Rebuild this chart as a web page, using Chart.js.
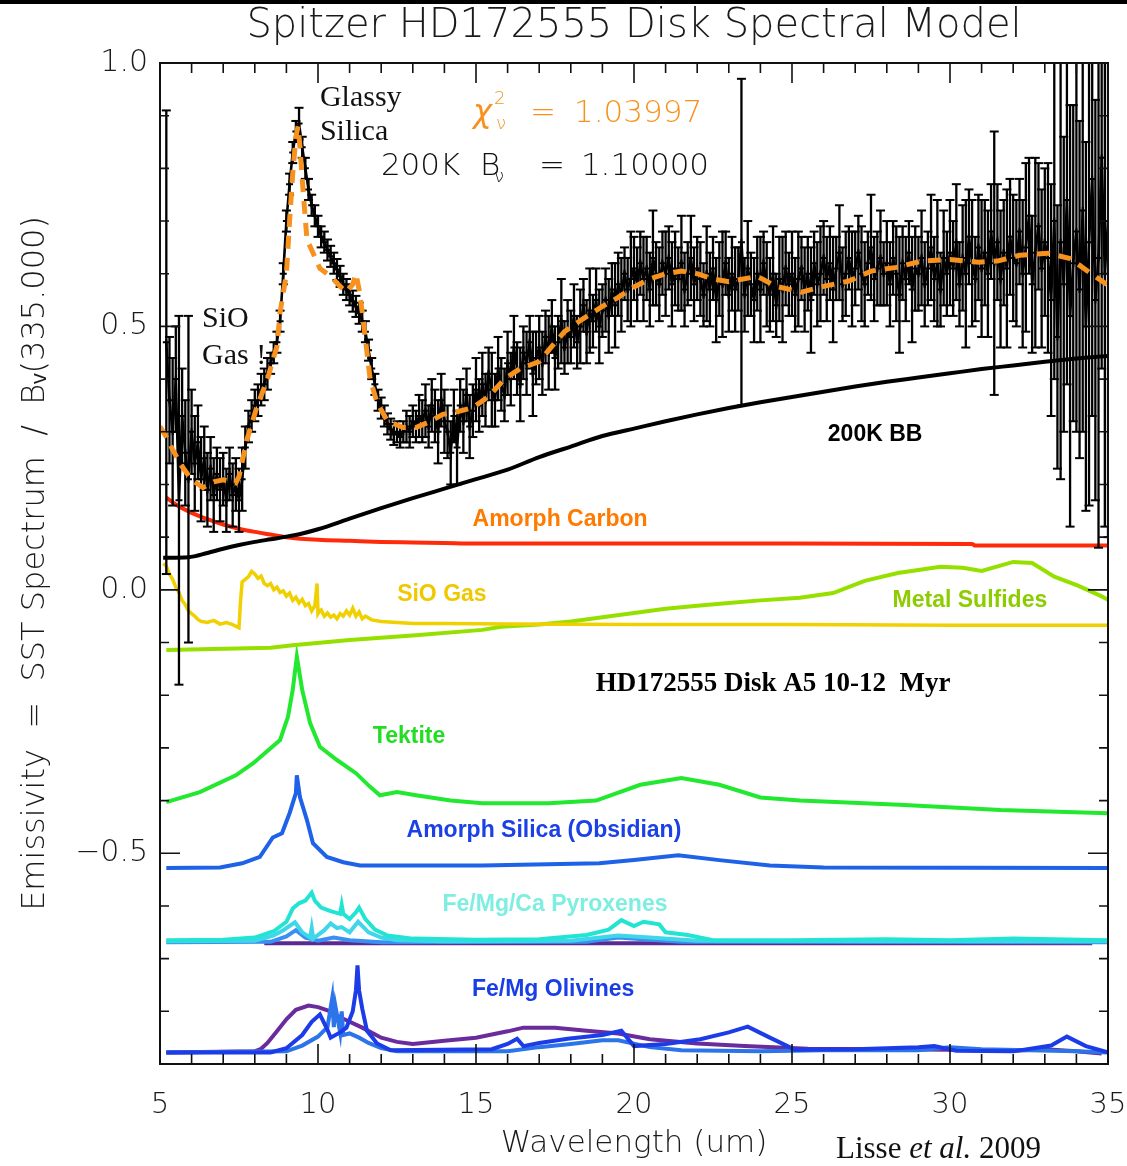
<!DOCTYPE html>
<html><head><meta charset="utf-8">
<script src="https://cdn.jsdelivr.net/npm/chart.js@4.4.0/dist/chart.umd.min.js"></script>
<style>html,body{margin:0;padding:0;background:#fff;}#wrap{width:1127px;height:1166px;position:relative;}</style>
</head><body><div id="wrap"><canvas id="c" width="1127" height="1166"></canvas></div>
<script>
// ---------- Observed Spitzer spectrum (short-wavelength part) ----------
const slWavelength = [5.2,5.3,5.4,5.5,5.6,5.7,5.8,5.9,6.0,6.1,
 6.2,6.3,6.4,6.5,6.6,6.7,6.8,6.9,7.0,7.1,
 7.2,7.3,7.4,7.5,7.6,7.7,7.8,7.9,8.0,8.1,
 8.2,8.3,8.4,8.5,8.6,8.7,8.8,8.9,9.0,9.1,
 9.2,9.3,9.4,9.5,9.6,9.7,9.8,9.9,10.0,10.1,
 10.2,10.3,10.4,10.5,10.6,10.7,10.8,10.9,11.0,11.1,
 11.2,11.3,11.4,11.5,11.6,11.7,11.8,11.9,12.0,12.1,
 12.2,12.3,12.4,12.5,12.6,12.7,12.8,12.9,13.0,13.1,
 13.2,13.3,13.4,13.5,13.6,13.7,13.8,13.9,14.0];
const slFlux = [0.47,0.36,0.30,0.40,0.17,0.33,0.26,0.21,0.30,0.24,
 0.28,0.21,0.25,0.19,0.23,0.18,0.22,0.19,0.21,0.17,
 0.22,0.18,0.20,0.17,0.21,0.27,0.31,0.33,0.35,0.36,
 0.38,0.39,0.41,0.43,0.45,0.47,0.51,0.60,0.70,0.77,
 0.83,0.87,0.885,0.84,0.80,0.76,0.73,0.71,0.69,0.67,
 0.66,0.645,0.633,0.62,0.608,0.595,0.58,0.57,0.56,0.548,
 0.538,0.525,0.51,0.49,0.455,0.42,0.39,0.36,0.345,0.33,
 0.315,0.305,0.295,0.30,0.29,0.30,0.31,0.30,0.32,0.31,
 0.33,0.32,0.34,0.31,0.35,0.33,0.30,0.36,0.32];
const slError = [0.44,0.12,0.14,0.10,0.35,0.09,0.10,0.31,0.08,0.09,
 0.07,0.08,0.06,0.07,0.06,0.07,0.05,0.06,0.05,0.06,
 0.05,0.06,0.05,0.06,0.06,0.04,0.03,0.03,0.03,0.03,
 0.03,0.03,0.03,0.02,0.02,0.02,0.02,0.02,0.02,0.02,
 0.02,0.02,0.03,0.02,0.02,0.02,0.02,0.02,0.02,0.02,
 0.02,0.02,0.02,0.02,0.02,0.02,0.02,0.02,0.02,0.02,
 0.02,0.02,0.02,0.02,0.02,0.02,0.02,0.02,0.02,0.02,
 0.02,0.02,0.02,0.02,0.02,0.02,0.03,0.03,0.03,0.03,
 0.04,0.04,0.05,0.04,0.05,0.05,0.06,0.05,0.06];
// ---------- Observed Spitzer spectrum (long-wavelength part) ----------
const llWavelength = [14.1,14.2,14.3,14.4,14.5,14.6,14.7,14.8,14.9,15.0,
 15.1,15.2,15.3,15.4,15.5,15.6,15.7,15.8,15.9,16.0,
 16.1,16.2,16.3,16.4,16.5,16.6,16.7,16.8,16.9,17.0,
 17.1,17.2,17.3,17.4,17.5,17.6,17.7,17.8,17.9,18.0,
 18.1,18.2,18.3,18.4,18.5,18.6,18.7,18.8,18.9,19.0,
 19.1,19.2,19.3,19.4,19.5,19.6,19.7,19.8,19.9,20.0,
 20.1,20.2,20.3,20.4,20.5,20.6,20.7,20.8,20.9,21.0,
 21.1,21.2,21.3,21.4,21.5,21.6,21.7,21.8,21.9,22.0,
 22.1,22.2,22.3,22.4,22.5,22.6,22.7,22.8,22.9,23.0,
 23.1,23.2,23.3,23.4,23.5,23.6,23.7,23.8,23.9,24.0,
 24.1,24.2,24.3,24.4,24.5,24.6,24.7,24.8,24.9,25.0,
 25.1,25.2,25.3,25.4,25.5,25.6,25.7,25.8,25.9,26.0,
 26.1,26.2,26.3,26.4,26.5,26.6,26.7,26.8,26.9,27.0,
 27.1,27.2,27.3,27.4,27.5,27.6,27.7,27.8,27.9,28.0,
 28.1,28.2,28.3,28.4,28.5,28.6,28.7,28.8,28.9,29.0,
 29.1,29.2,29.3,29.4,29.5,29.6,29.7,29.8,29.9,30.0,
 30.1,30.2,30.3,30.4,30.5,30.6,30.7,30.8,30.9,31.0,
 31.1,31.2,31.3,31.4,31.5,31.6,31.7,31.8,31.9,32.0,
 32.1,32.2,32.3,32.4,32.5,32.6,32.7,32.8,32.9,33.0,
 33.1,33.2,33.3,33.4,33.5,33.6,33.7,33.8,33.9,34.0,
 34.1,34.2,34.3,34.4,34.5,34.6,34.7,34.8,34.9,35.0];
const llFlux = [0.30,0.26,0.33,0.27,0.35,0.32,0.37,0.31,0.34,0.38,
 0.35,0.39,0.36,0.41,0.38,0.36,0.42,0.39,0.37,0.43,
 0.40,0.46,0.42,0.39,0.45,0.43,0.47,0.41,0.44,0.46,
 0.43,0.48,0.45,0.50,0.44,0.47,0.51,0.46,0.49,0.48,
 0.52,0.47,0.50,0.54,0.49,0.53,0.51,0.55,0.50,0.53,
 0.55,0.52,0.57,0.54,0.58,0.56,0.60,0.57,0.59,0.61,
 0.58,0.62,0.59,0.61,0.57,0.63,0.60,0.58,0.62,0.60,
 0.63,0.58,0.61,0.59,0.62,0.57,0.60,0.63,0.58,0.61,
 0.59,0.56,0.60,0.57,0.61,0.55,0.59,0.58,0.62,0.56,
 0.60,0.57,0.59,0.66,0.56,0.61,0.58,0.55,0.60,0.57,
 0.62,0.58,0.56,0.60,0.54,0.59,0.57,0.61,0.58,0.60,
 0.56,0.59,0.61,0.57,0.60,0.55,0.62,0.58,0.60,0.63,
 0.59,0.62,0.57,0.61,0.64,0.58,0.60,0.63,0.59,0.61,
 0.64,0.60,0.58,0.62,0.65,0.59,0.61,0.63,0.60,0.62,
 0.58,0.63,0.60,0.56,0.62,0.59,0.64,0.57,0.61,0.60,
 0.63,0.58,0.61,0.65,0.59,0.62,0.57,0.63,0.60,0.64,
 0.61,0.66,0.58,0.63,0.60,0.67,0.62,0.59,0.65,0.61,
 0.64,0.60,0.68,0.62,0.66,0.59,0.64,0.61,0.67,0.63,
 0.62,0.68,0.60,0.65,0.71,0.58,0.64,0.69,0.61,0.66,
 0.63,0.55,0.70,0.48,0.66,0.58,0.74,0.52,0.62,0.68,
 0.57,0.72,0.50,0.66,0.78,0.55,0.63,0.82,0.60,0.70];
const llError = [0.05,0.06,0.05,0.07,0.05,0.06,0.05,0.06,0.05,0.06,
 0.05,0.06,0.05,0.05,0.07,0.05,0.06,0.05,0.05,0.06,
 0.05,0.06,0.05,0.07,0.05,0.06,0.05,0.08,0.05,0.06,
 0.06,0.05,0.07,0.05,0.06,0.05,0.08,0.05,0.06,0.05,
 0.06,0.05,0.07,0.05,0.06,0.08,0.05,0.06,0.07,0.05,
 0.06,0.07,0.05,0.08,0.06,0.07,0.05,0.06,0.09,0.06,
 0.07,0.06,0.08,0.06,0.07,0.09,0.06,0.07,0.06,0.08,
 0.06,0.08,0.07,0.06,0.09,0.07,0.06,0.08,0.07,0.06,
 0.07,0.06,0.09,0.07,0.06,0.08,0.07,0.10,0.06,0.07,
 0.07,0.08,0.06,0.31,0.07,0.09,0.06,0.08,0.07,0.10,
 0.06,0.08,0.07,0.09,0.06,0.08,0.10,0.07,0.06,0.08,
 0.07,0.09,0.06,0.08,0.07,0.10,0.06,0.08,0.09,0.07,
 0.08,0.07,0.10,0.06,0.09,0.07,0.08,0.06,0.09,0.07,
 0.07,0.09,0.08,0.06,0.10,0.08,0.07,0.09,0.06,0.08,
 0.08,0.07,0.09,0.11,0.07,0.08,0.06,0.10,0.08,0.07,
 0.09,0.08,0.07,0.10,0.08,0.12,0.07,0.09,0.08,0.10,
 0.09,0.11,0.08,0.10,0.14,0.09,0.12,0.08,0.10,0.13,
 0.10,0.12,0.09,0.25,0.11,0.13,0.10,0.15,0.11,0.12,
 0.12,0.10,0.14,0.16,0.11,0.13,0.18,0.12,0.15,0.14,
 0.18,0.22,0.30,0.25,0.45,0.28,0.35,0.40,0.30,0.38,
 0.32,0.42,0.35,0.50,0.45,0.38,0.55,0.40,0.48,0.60];
// ---------- Best-fit model (orange dashed) ----------
const modelWavelength = [5.0,5.2,5.4,5.7,6.0,6.36,6.7,7.0,7.4,7.5,7.75,8.07,8.4,8.7,8.8,9.0,9.1,9.2,9.3,9.37,9.43,9.5,9.65,9.84,10.06,10.4,10.7,10.9,11.1,11.2,11.3,11.4,11.65,11.87,12.2,12.7,13.1,13.45,13.95,14.4,14.9,15.4,15.9,16.4,17.0,17.4,17.8,18.35,19.0,19.5,20.0,20.5,21.0,21.5,22.0,22.5,23.0,23.9,24.5,25.3,26.0,26.8,27.5,28.3,29.1,30.0,30.9,31.5,32.2,33.1,33.8,34.4,35.0];
const modelFlux = [0.31,0.29,0.266,0.234,0.209,0.194,0.205,0.209,0.203,0.215,0.285,0.348,0.40,0.462,0.527,0.60,0.70,0.79,0.86,0.88,0.84,0.78,0.665,0.64,0.61,0.595,0.576,0.565,0.58,0.60,0.57,0.527,0.40,0.355,0.32,0.308,0.308,0.317,0.333,0.338,0.346,0.367,0.40,0.42,0.433,0.462,0.49,0.513,0.538,0.555,0.575,0.59,0.60,0.605,0.60,0.59,0.585,0.595,0.576,0.565,0.576,0.586,0.605,0.612,0.624,0.627,0.622,0.624,0.635,0.639,0.629,0.603,0.578];
// ---------- Model components ----------
const bbWavelength = [5.1,5.9,6.5,7.0,7.5,8.0,8.5,9.0,9.5,10,11,12,13,14,15,16,17,18,19,20,21,22,23,24,25,26,27,28,29,30,31,32,33,34,35];
const bbFlux = [0.061,0.062,0.07,0.078,0.085,0.091,0.096,0.101,0.107,0.115,0.135,0.155,0.174,0.192,0.21,0.228,0.252,0.272,0.292,0.306,0.32,0.333,0.345,0.356,0.366,0.376,0.386,0.395,0.403,0.411,0.419,0.426,0.433,0.439,0.444];
const carbonWavelength = [5.2,5.5,6.0,6.5,7.0,7.5,8.0,8.5,9.0,10.0,11.0,12.0,13.0,14.0,15.0,20.0,25.0,30.7,30.8,35.0];
const carbonFlux = [0.175,0.162,0.146,0.134,0.124,0.116,0.110,0.105,0.100,0.095,0.093,0.091,0.090,0.089,0.088,0.088,0.088,0.087,0.084,0.084];
const sioWavelength = [5.1,5.2,5.3,5.4,5.5,5.6,5.7,5.8,5.9,6.0,6.1,6.2,6.3,6.5,6.7,6.9,7.1,7.3,7.5,7.55,7.6,7.7,7.8,7.9,8.0,8.1,8.2,8.3,8.4,8.5,8.6,8.7,8.8,8.9,9.0,9.1,9.2,9.3,9.4,9.5,9.6,9.7,9.8,9.9,9.97,10.0,10.05,10.1,10.2,10.3,10.4,10.5,10.6,10.7,10.8,10.9,11.0,11.1,11.2,11.3,11.4,11.5,11.7,12.0,12.5,13.0,14.0,16.0,20.0,25.0,30.0,35.0];
const sioFlux = [0.05,0.045,0.03,0.02,0.005,-0.005,-0.02,-0.028,-0.04,-0.045,-0.05,-0.056,-0.06,-0.062,-0.058,-0.065,-0.062,-0.066,-0.072,-0.02,0.015,0.02,0.025,0.035,0.03,0.022,0.026,0.012,0.008,0.012,0.0,0.005,-0.005,-0.002,-0.012,-0.006,-0.02,-0.014,-0.025,-0.018,-0.03,-0.026,-0.04,-0.03,0.012,-0.045,-0.04,-0.038,-0.05,-0.044,-0.052,-0.048,-0.055,-0.045,-0.05,-0.04,-0.048,-0.035,-0.05,-0.042,-0.055,-0.05,-0.057,-0.06,-0.062,-0.064,-0.064,-0.065,-0.066,-0.066,-0.067,-0.067];
const sulfideWavelength = [5.2,8.5,9.2,11.0,13.1,15.2,15.8,17.0,18,19,20,21,22,23,24,25.25,26.3,27.3,28.35,29.7,30.4,31.0,32.0,32.6,33.3,34.05,34.75,35.0];
const sulfideFlux = [-0.114,-0.11,-0.105,-0.095,-0.086,-0.076,-0.07,-0.066,-0.06,-0.052,-0.044,-0.036,-0.03,-0.025,-0.02,-0.015,-0.006,0.017,0.032,0.044,0.042,0.036,0.053,0.051,0.025,0.008,-0.011,-0.019];
const tektiteWavelength = [5.2,6.26,7.4,7.95,8.8,9.05,9.2,9.33,9.5,9.75,10.06,10.6,11.2,11.65,11.96,12.5,13.1,14.2,15.2,17.3,18.8,20.2,21.5,22.7,24.0,25.25,28.4,31.6,35.0];
const tektiteFlux = [-0.403,-0.384,-0.352,-0.329,-0.285,-0.241,-0.19,-0.127,-0.19,-0.253,-0.298,-0.323,-0.348,-0.374,-0.39,-0.384,-0.39,-0.40,-0.405,-0.405,-0.40,-0.37,-0.357,-0.37,-0.394,-0.40,-0.408,-0.418,-0.424];
const obsidianWavelength = [5.2,6.9,7.6,8.16,8.57,8.86,9.1,9.3,9.33,9.43,9.65,9.84,10.28,10.8,11.33,12.6,15.2,18.9,20.0,21.4,22.7,24.3,26.0,35.0];
const obsidianFlux = [-0.528,-0.527,-0.519,-0.507,-0.47,-0.462,-0.424,-0.386,-0.352,-0.394,-0.437,-0.481,-0.507,-0.517,-0.523,-0.523,-0.523,-0.519,-0.513,-0.504,-0.513,-0.523,-0.527,-0.528];
const pyroxene1Wavelength = [5.2,7.0,8.0,8.6,9.0,9.2,9.4,9.6,9.8,9.9,10.1,10.4,10.7,10.75,10.8,11.0,11.2,11.3,11.5,11.8,12.2,13.0,15.0,17.0,18.5,19.2,19.6,20.0,20.3,20.8,21.0,21.7,22.5,25.0,28.0,30.0,32.0,35.0];
const pyroxene1Flux = [-0.665,-0.664,-0.66,-0.648,-0.63,-0.605,-0.595,-0.59,-0.575,-0.59,-0.603,-0.61,-0.615,-0.598,-0.615,-0.625,-0.612,-0.603,-0.625,-0.645,-0.656,-0.662,-0.664,-0.663,-0.655,-0.645,-0.627,-0.638,-0.63,-0.635,-0.65,-0.655,-0.665,-0.665,-0.663,-0.665,-0.662,-0.665];
const pyroxene2Wavelength = [5.2,8.0,8.6,8.9,9.27,9.5,9.75,9.8,9.85,10.2,10.4,10.6,10.75,11.0,11.27,11.6,12.0,12.5,14.0,18.0,19.5,20.5,22.0,35.0];
const pyroxene2Flux = [-0.667,-0.666,-0.656,-0.646,-0.631,-0.65,-0.66,-0.642,-0.662,-0.646,-0.633,-0.642,-0.64,-0.65,-0.63,-0.65,-0.66,-0.665,-0.667,-0.666,-0.656,-0.66,-0.666,-0.667];
const pyroxene3Wavelength = [5.2,8.5,9.0,9.3,9.6,10.0,10.5,11.0,12.0,18.5,19.5,20.5,21.5,35.0];
const pyroxene3Flux = [-0.669,-0.668,-0.658,-0.646,-0.66,-0.666,-0.66,-0.665,-0.669,-0.668,-0.66,-0.664,-0.668,-0.669];
const pyroxene4Wavelength = [8.3,34.5];
const pyroxene4Flux = [-0.671,-0.671];
const olivine1Wavelength = [5.2,8.0,8.2,8.4,8.7,9.0,9.3,9.7,10.0,10.3,10.8,11.4,12.0,12.5,13.0,14.0,15.0,16.0,16.5,17.5,18.5,19.5,20.5,22.0,23.5,25.5,28.0,30.0,32.0,33.0,34.0,34.8];
const olivine1Flux = [-0.878,-0.876,-0.871,-0.86,-0.838,-0.815,-0.797,-0.789,-0.792,-0.798,-0.814,-0.831,-0.85,-0.858,-0.862,-0.856,-0.85,-0.838,-0.831,-0.831,-0.837,-0.842,-0.853,-0.861,-0.866,-0.871,-0.872,-0.873,-0.875,-0.872,-0.876,-0.88];
const olivine2Wavelength = [5.2,8.5,9.0,9.5,9.8,10.06,10.3,10.4,10.7,10.9,11.1,11.2,11.25,11.3,11.4,11.55,11.87,12.3,15.5,16.0,16.3,16.5,17.0,17.9,19.0,19.6,20.0,21.0,22.1,23.0,23.6,24.3,25.1,27.0,29.0,29.5,30.2,32.0,33.2,33.7,34.3,35.0];
const olivine2Flux = [-0.878,-0.878,-0.87,-0.845,-0.82,-0.806,-0.835,-0.85,-0.84,-0.831,-0.80,-0.76,-0.713,-0.76,-0.795,-0.837,-0.861,-0.874,-0.872,-0.862,-0.852,-0.866,-0.86,-0.852,-0.845,-0.837,-0.866,-0.862,-0.853,-0.84,-0.829,-0.85,-0.873,-0.872,-0.868,-0.866,-0.875,-0.876,-0.865,-0.848,-0.866,-0.878];
const olivine3Wavelength = [5.2,9.0,9.5,10.0,10.3,10.45,10.5,10.55,10.7,10.75,10.8,11.0,11.3,11.6,12.0,12.5,16.0,17.0,18.0,19.0,19.5,20.5,21.5,24.0,26.0,29.0,30.0,31.0,34.0,35.0];
const olivine3Flux = [-0.878,-0.876,-0.865,-0.848,-0.83,-0.775,-0.83,-0.79,-0.84,-0.80,-0.845,-0.842,-0.85,-0.86,-0.87,-0.876,-0.876,-0.868,-0.862,-0.855,-0.855,-0.868,-0.874,-0.876,-0.874,-0.874,-0.868,-0.872,-0.876,-0.878];
// ---------- Axis ticks ----------
const xTickValues = [5,10,15,20,25,30,35];
const yTickValues = [-0.5,0.0,0.5,1.0];

// ---------- build datasets ----------
const pts = (xs, ys) => xs.map((x,i)=>({x, y: ys[i]}));
const specWl = slWavelength.concat(llWavelength);
const specFlux = slFlux.concat(llFlux);
const specErr = slError.concat(llError);
const errPts = [];
specWl.forEach((w,i)=>{ errPts.push({x:w,y:specFlux[i]-specErr[i]},{x:w,y:specFlux[i]+specErr[i]},{x:w,y:null}); });

const comp = (label, xs, ys, color, width, smooth) => ({label, data: pts(xs,ys), borderColor: color, borderWidth: width||4, pointRadius:0, fill:false, cubicInterpolationMode: smooth ? 'monotone' : 'default', tension:0});

const datasets = [
  {label:'Model', data: pts(modelWavelength, modelFlux), borderColor:'#f7921e', borderWidth:5, borderDash:[13,9], pointRadius:0, fill:false},
  {label:'Spectrum', data: pts(specWl, specFlux), borderColor:'#000', borderWidth:2.6, pointStyle:'cross', pointRadius:3.5, pointBorderColor:'#000', pointBorderWidth:2, fill:false},
  {label:'Errors', data: errPts, borderColor:'#000', borderWidth:2.3, spanGaps:false, pointStyle:'line', pointRadius:4.5, pointBorderColor:'#000', pointBorderWidth:2, fill:false},
  comp('200K BB', bbWavelength, bbFlux, '#000000', 4, true),
  comp('Amorph Carbon', carbonWavelength, carbonFlux, '#ff2a0a', 4, true),
  comp('SiO Gas', sioWavelength, sioFlux, '#f0d000', 3.5),
  comp('Metal Sulfides', sulfideWavelength, sulfideFlux, '#96e000', 4),
  comp('Tektite', tektiteWavelength, tektiteFlux, '#22e830', 4),
  comp('Amorph Silica', obsidianWavelength, obsidianFlux, '#1e62e8', 4),
  comp('Pyroxene 1', pyroxene1Wavelength, pyroxene1Flux, '#22e4d2', 4),
  comp('Pyroxene 2', pyroxene2Wavelength, pyroxene2Flux, '#40d6ea', 4),
  comp('Pyroxene 3', pyroxene3Wavelength, pyroxene3Flux, '#3a90f0', 4),
  comp('Pyroxene 4', pyroxene4Wavelength, pyroxene4Flux, '#5b2a90', 4),
  comp('Olivine 2', olivine2Wavelength, olivine2Flux, '#1c3ce8', 4),
  comp('Olivine 3', olivine3Wavelength, olivine3Flux, '#2b74ea', 4),
  comp('Olivine 1', olivine1Wavelength, olivine1Flux, '#6a2c9c', 4)
];

// ---------- annotations (text) ----------
const sansBold = '"Liberation Sans", Arial, sans-serif';
const labels = [
  {text:'Amorph Carbon', x:17.66, y:0.133, color:'#ff7a00', font:'bold 23px '+sansBold},
  {text:'SiO Gas', x:13.92, y:-0.01, color:'#f0c800', font:'bold 23px '+sansBold},
  {text:'Metal Sulfides', x:30.63, y:-0.021, color:'#8ccc00', font:'bold 23px '+sansBold},
  {text:'200K BB', x:27.63, y:0.295, color:'#000', font:'bold 23px '+sansBold},
  {text:'HD172555 Disk A5 10-12  Myr', x:24.4, y:-0.179, color:'#000', font:'bold 27px "Liberation Serif", "Times New Roman", serif'},
  {text:'Tektite', x:12.88, y:-0.279, color:'#22dd22', font:'bold 23px '+sansBold},
  {text:'Amorph Silica (Obsidian)', x:17.15, y:-0.458, color:'#1a40e6', font:'bold 23px '+sansBold},
  {text:'Fe/Mg/Ca Pyroxenes', x:17.5, y:-0.597, color:'#7eeee0', font:'bold 23px '+sansBold},
  {text:'Fe/Mg Olivines', x:17.44, y:-0.759, color:'#1a3ee6', font:'bold 23px '+sansBold},
  {text:'Glassy', x:10.06, y:0.934, color:'#111', font:'30px "Liberation Serif", serif', align:'left'},
  {text:'Silica', x:10.06, y:0.868, color:'#111', font:'30px "Liberation Serif", serif', align:'left'},
  {text:'SiO', x:6.33, y:0.513, color:'#111', font:'30px "Liberation Serif", serif', align:'left'},
  {text:'Gas !', x:6.33, y:0.443, color:'#111', font:'30px "Liberation Serif", serif', align:'left'}
];
const hershey = '"DejaVu Sans", sans-serif';

const textPlugin = {
  id:'texts',
  afterDatasetsDraw(chart){
    const {ctx, scales:{x, y}} = chart;
    ctx.save();
    ctx.textBaseline = 'middle';
    labels.forEach(l=>{
      ctx.font = l.font; ctx.fillStyle = l.color; ctx.textAlign = l.align || 'center';
      ctx.fillText(l.text, x.getPixelForValue(l.x), y.getPixelForValue(l.y));
    });
    // chi^2 line
    ctx.textAlign = 'left';
    let px = x.getPixelForValue(14.905), py = y.getPixelForValue(0.903);
    ctx.fillStyle = '#f7921e';
    ctx.font = 'italic 200 32px '+hershey; ctx.fillText('χ', px, py);
    ctx.font = '200 18px '+hershey; ctx.fillText('2', px+21, py-15); ctx.fillText('ν', px+23, py+10);
    ctx.font = '200 31px '+hershey; ctx.fillText('=', px+57, py); ctx.fillText('1.03997', px+101, py);
    // 200K B_nu line
    px = x.getPixelForValue(11.99); py = y.getPixelForValue(0.803);
    ctx.fillStyle = '#111';
    ctx.font = '200 31px '+hershey; ctx.fillText('200K  B', px, py);
    ctx.font = '200 18px '+hershey; ctx.fillText('ν', px+113, py+11);
    ctx.font = '200 31px '+hershey; ctx.fillText('=', px+158, py); ctx.fillText('1.10000', px+200, py);
    // citation
    ctx.fillStyle = '#111'; ctx.textBaseline = 'alphabetic';
    let cx = 836; const cy = 1158;
    ctx.font = '31px "Liberation Serif", serif'; ctx.fillText('Lisse ', cx, cy); cx += ctx.measureText('Lisse ').width;
    ctx.font = 'italic 31px "Liberation Serif", serif'; ctx.fillText('et al.', cx, cy); cx += ctx.measureText('et al.').width;
    ctx.font = '31px "Liberation Serif", serif'; ctx.fillText(' 2009', cx, cy);
    ctx.restore();
  }
};

const framePlugin = {
  id:'frame',
  afterDatasetsDraw(chart){
    const {ctx, chartArea:a, scales:{x, y}} = chart;
    ctx.save();
    ctx.strokeStyle = '#111'; ctx.lineWidth = 2;
    ctx.strokeRect(a.left, a.top, a.right-a.left, a.bottom-a.top);
    ctx.lineWidth = 1.6;
    ctx.beginPath();
    for (let v = 5; v <= 35; v++) {
      const p = x.getPixelForValue(v); const L = (v % 5 === 0) ? 20 : 10;
      ctx.moveTo(p, a.bottom); ctx.lineTo(p, a.bottom - L);
      ctx.moveTo(p, a.top); ctx.lineTo(p, a.top + L);
    }
    for (let k = -9; k <= 10; k++) {
      const p = y.getPixelForValue(k/10); const L = (k % 5 === 0) ? 20 : 9;
      ctx.moveTo(a.left, p); ctx.lineTo(a.left + L, p);
      ctx.moveTo(a.right, p); ctx.lineTo(a.right - L, p);
    }
    ctx.stroke();
    ctx.restore();
  },
  afterDraw(chart){
    const ctx = chart.ctx; ctx.save(); ctx.fillStyle = '#000'; ctx.fillRect(0,0,chart.width,4); ctx.restore();
  }
};

new Chart(document.getElementById('c'), {
  type:'line',
  data:{datasets},
  options:{
    responsive:false, animation:false, events:[],
    layout:{padding:{left:0, right:0, top:0, bottom:0}},
    plugins:{
      legend:{display:false}, tooltip:{enabled:false},
      title:{display:true, fullSize:false, text:'Spitzer HD172555 Disk Spectral Model', color:'#1a1a1a',
        font:{family:hershey, size:40, weight:'200'}, padding:{top:3, bottom:12}}
    },
    scales:{
      x:{type:'linear', min:5, max:35,
        grid:{display:false, drawTicks:false}, border:{display:false},
        afterBuildTicks: s => { s.ticks = xTickValues.map(v=>({value:v})); },
        ticks:{color:'#1a1a1a', font:{family:hershey, size:29, weight:'200'}, padding:24, maxRotation:0, autoSkip:false},
        title:{display:true, text:'Wavelength (um)', color:'#1a1a1a', font:{family:hershey, size:31, weight:'200'}, padding:{top:0, bottom:3}},
        afterFit: s => { s.height = 102; s.paddingRight = 19; s.paddingLeft = 0; }
      },
      y:{type:'linear', min:-0.9, max:1.0,
        grid:{display:false, drawTicks:false}, border:{display:false},
        afterBuildTicks: s => { s.ticks = yTickValues.map(v=>({value:v})); },
        ticks:{color:'#1a1a1a', font:{family:hershey, size:30, weight:'200'}, padding:12,
          callback: v => v < 0 ? '\u2212' + Math.abs(v).toFixed(1) : v.toFixed(1)},
        title:{display:true, text:'Emissivity  =  SST Spectrum  /  B\u1D65(335.000)', color:'#1a1a1a', font:{family:hershey, size:32, weight:'200'}, padding:{top:16, bottom:0}},
        afterFit: s => { s.width = 160; s.paddingTop = 0; s.paddingBottom = 0; }
      }
    }
  },
  plugins:[framePlugin, textPlugin]
});
</script></body></html>
